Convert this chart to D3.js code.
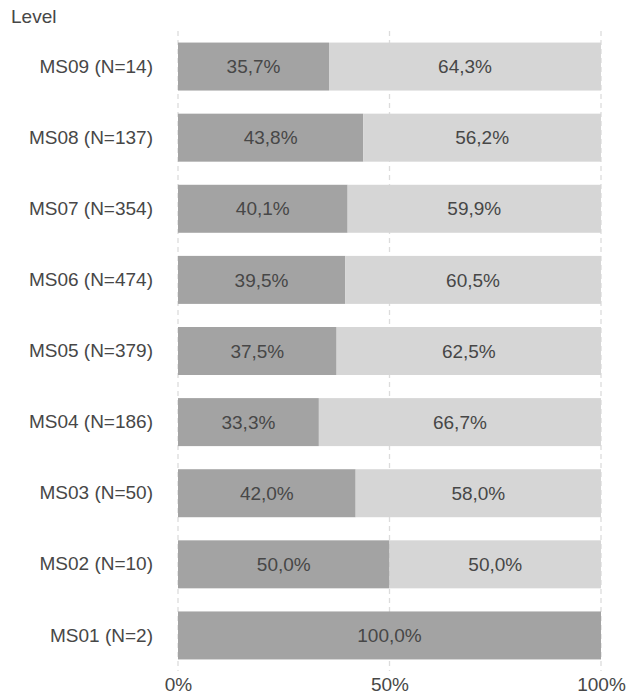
<!DOCTYPE html>
<html><head><meta charset="utf-8">
<script src="https://cdn.jsdelivr.net/npm/d3@7"></script>
<style>body{margin:0;background:#fff}</style>
</head><body>
<svg id="c" width="640" height="697"></svg>
<script>
const categories = ["MS09 (N=14)","MS08 (N=137)","MS07 (N=354)","MS06 (N=474)","MS05 (N=379)","MS04 (N=186)","MS03 (N=50)","MS02 (N=10)","MS01 (N=2)"];
const darkShare = [35.7,43.8,40.1,39.5,37.5,33.3,42.0,50.0,100.0];
const lightShare = [64.3,56.2,59.9,60.5,62.5,66.7,58.0,50.0,0];
const tickValues = [0,50,100];
const tickLabels = ["0%","50%","100%"];

const svg = d3.select("#c");
const font = "'Liberation Sans', Arial, sans-serif";
const txt = "#474747";
const x = d3.scaleLinear().domain([0,100]).range([178,601]);
const y = d3.scaleBand().domain(categories).range([31,671]).paddingInner(0.325).paddingOuter(0.1625);
const fmt = v => v.toFixed(1).replace(".", ",") + "%";

// grid
svg.append("g").selectAll("line").data(tickValues).join("line")
  .attr("x1", d=>x(d)).attr("x2", d=>x(d)).attr("y1", 31).attr("y2", 671)
  .attr("stroke", "#dcdcdc").attr("stroke-width", 1.3).attr("stroke-dasharray", "5,4");

const rows = categories.map((c,i)=>({c, a: darkShare[i], b: lightShare[i]}));
const g = svg.append("g");
g.selectAll("rect.a").data(rows).join("rect").attr("class","a")
  .attr("x", x(0)).attr("y", d=>y(d.c)).attr("width", d=>x(d.a)-x(0)).attr("height", y.bandwidth())
  .attr("fill", "#a3a3a3");
g.selectAll("rect.b").data(rows.filter(d=>d.b>0)).join("rect").attr("class","b")
  .attr("x", d=>x(d.a)).attr("y", d=>y(d.c)).attr("width", d=>x(d.a+d.b)-x(d.a)).attr("height", y.bandwidth())
  .attr("fill", "#d6d6d6");
g.selectAll("text.a").data(rows).join("text").attr("class","a")
  .attr("x", d=>(x(0)+x(d.a))/2).attr("y", d=>y(d.c)+y.bandwidth()/2).attr("dy","0.35em")
  .attr("text-anchor","middle").attr("font-family",font).attr("font-size",19).attr("fill",txt)
  .text(d=>fmt(d.a));
g.selectAll("text.b").data(rows.filter(d=>d.b>0)).join("text").attr("class","b")
  .attr("x", d=>(x(d.a)+x(d.a+d.b))/2).attr("y", d=>y(d.c)+y.bandwidth()/2).attr("dy","0.35em")
  .attr("text-anchor","middle").attr("font-family",font).attr("font-size",19).attr("fill",txt)
  .text(d=>fmt(d.b));

// y axis labels
const ya = svg.append("g").attr("transform","translate(178,0)")
  .call(d3.axisLeft(y).tickSize(0).tickPadding(25));
ya.select(".domain").remove();
ya.selectAll("text").attr("font-family",font).attr("font-size",19).attr("fill",txt);

// x axis
const xa = svg.append("g").attr("transform","translate(0,671)")
  .call(d3.axisBottom(x).tickValues(tickValues).tickFormat((d,i)=>tickLabels[i]).tickSize(0).tickPadding(7));
xa.select(".domain").remove();
xa.selectAll("text").attr("font-family",font).attr("font-size",19).attr("fill",txt);

svg.append("text").attr("x",11).attr("y",23).attr("font-family",font).attr("font-size",19)
  .attr("fill",txt).text("Level");
</script>
</body></html>
